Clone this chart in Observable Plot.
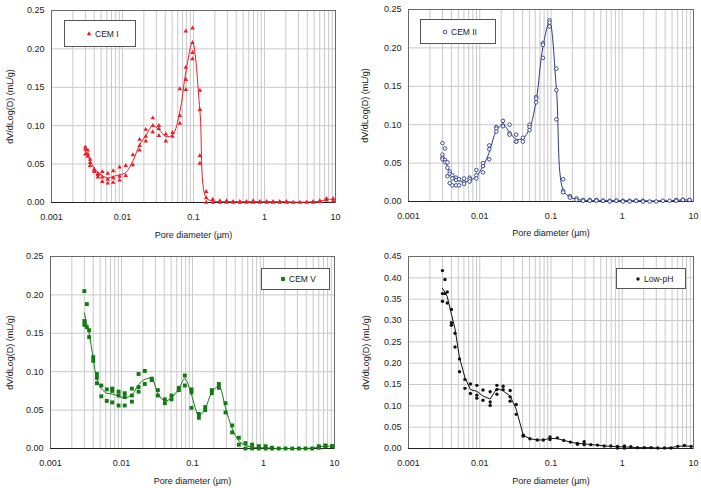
<!DOCTYPE html>
<html>
<head>
<meta charset="utf-8">
<script src="https://cdn.jsdelivr.net/npm/d3@7"></script>
<script src="https://cdn.jsdelivr.net/npm/@observablehq/plot@0.6"></script>
<style>
  html, body { margin: 0; padding: 0; background: #fff; }
  #board { position: relative; width: 701px; height: 488px; font-family: "Liberation Sans", Arial, sans-serif; }
  .panel { position: absolute; }
  .legend {
    position: absolute; box-sizing: border-box; border: 1px solid #555; background: #fff;
    display: flex; align-items: center; font-size: 8.5px; color: #222;
  }
  .legend svg { margin-right: 2px; }
</style>
</head>
<body>
<div id="board"></div>
<script>
// Pore diameters (µm) of the intrusion steps
const diamCEMI = [0.0030, 0.00325, 0.0035, 0.0040, 0.0045, 0.0052, 0.0062, 0.0074, 0.0091, 0.0111, 0.0140, 0.0174, 0.0213, 0.0267, 0.0325, 0.0408, 0.0506, 0.0642, 0.078, 0.0968, 0.123, 0.151, 0.187, 0.235, 0.292, 0.362, 0.450, 0.557, 0.692, 0.859, 1.07, 1.32, 1.64, 2.04, 2.54, 3.15, 3.91, 4.84, 6.01, 7.46, 9.27];
const diamCEMII = [0.0030, 0.00326, 0.00352, 0.00379, 0.00413, 0.00465, 0.00512, 0.00602, 0.00722, 0.00896, 0.0111, 0.0136, 0.0171, 0.0212, 0.0262, 0.0325, 0.0403, 0.0500, 0.0620, 0.0769, 0.0953, 0.119, 0.148, 0.184, 0.228, 0.282, 0.350, 0.434, 0.537, 0.667, 0.826, 1.02, 1.27, 1.57, 1.95, 2.42, 3.00, 3.72, 4.61, 5.72, 7.09, 8.79];
const diamCEMV = diamCEMI;
const diamLowPH = diamCEMI;

// Replicate measurements of dV/dlog(D) (mL/g) at each diameter
const cemIRuns = [[0.072, 0.069, 0.063], [0.068, 0.063, 0.060], [0.056, 0.052, 0.048], [0.043, 0.042, 0.040], [0.038, 0.036, 0.033], [0.040, 0.033, 0.027], [0.038, 0.030, 0.025], [0.041, 0.032, 0.026], [0.046, 0.034, 0.029], [0.048, 0.035], [0.062, 0.049], [0.082, 0.074, 0.068], [0.095, 0.086, 0.080], [0.110, 0.100, 0.092], [0.100, 0.096, 0.087], [0.089, 0.080], [0.091, 0.086], [0.148, 0.113, 0.103], [0.223, 0.176, 0.160, 0.147], [0.227, 0.208, 0.195, 0.187], [0.146, 0.121, 0.061, 0.051], [0.014, 0.006, 0.0], [0.004, 0.0], [0.002, 0.0], [0.002, 0.0], [0.001, 0.0], [0.001, 0.0], [0.001, 0.0], [0.002, 0.0], [0.001, 0.0], [0.001, 0.0], [0.001, 0.0], [0.001, 0.0], [0.001, 0.0], [0.0], [0.0], [0.0], [0.001, 0.0], [0.002, 0.001], [0.005, 0.003], [0.005, 0.002]];
const cemIIRuns = [[0.076, 0.061, 0.057, 0.055], [0.069, 0.054, 0.051], [0.051, 0.044, 0.033], [0.039, 0.036, 0.024], [0.034, 0.030, 0.021], [0.031, 0.028, 0.021], [0.029, 0.021], [0.030, 0.025, 0.023], [0.031, 0.029, 0.026], [0.041, 0.034, 0.030], [0.050, 0.046, 0.038], [0.073, 0.068, 0.055], [0.097, 0.095, 0.091], [0.105, 0.099, 0.098], [0.100, 0.089, 0.087], [0.087, 0.078, 0.078], [0.083, 0.078], [0.100, 0.097, 0.093], [0.136, 0.134, 0.129], [0.206, 0.204, 0.187], [0.236, 0.233, 0.228], [0.173, 0.145, 0.107], [0.029, 0.014, 0.012], [0.007, 0.005], [0.004, 0.002], [0.002, 0.001], [0.002, 0.001], [0.002, 0.001], [0.001, 0.001], [0.001, 0.0], [0.001, 0.001], [0.001, 0.0], [0.001, 0.0], [0.001, 0.001], [0.001, 0.0], [0.0], [0.0], [0.001], [0.001], [0.002, 0.001], [0.002, 0.002], [0.002, 0.002]];
const cemVRuns = [[0.205, 0.166, 0.161], [0.188, 0.158], [0.154, 0.145], [0.119, 0.114], [0.097, 0.092, 0.085], [0.082, 0.068], [0.077, 0.062], [0.078, 0.075, 0.060], [0.074, 0.069, 0.056], [0.072, 0.067, 0.056], [0.078, 0.069, 0.061], [0.097, 0.080, 0.074], [0.101, 0.084], [0.091, 0.089], [0.076, 0.069], [0.064, 0.059], [0.069, 0.064], [0.079, 0.076], [0.095, 0.082], [0.077, 0.073, 0.053], [0.045, 0.040], [0.054, 0.050], [0.076, 0.072], [0.084, 0.079], [0.059, 0.047], [0.030, 0.021], [0.014, 0.005], [0.007, 0.0], [0.005, 0.0], [0.003, 0.0], [0.003, 0.0], [0.001, 0.0], [0.0], [0.0], [0.0], [0.0], [0.0], [0.0], [0.003, 0.001], [0.004, 0.003], [0.003, 0.003]];
const lowPHRuns = [[0.417, 0.363, 0.345], [0.396, 0.363], [0.367, 0.341], [0.326, 0.295, 0.289], [0.270, 0.238], [0.210, 0.180], [0.162, 0.141], [0.151, 0.129], [0.148, 0.125, 0.118], [0.137, 0.113], [0.133, 0.109, 0.101], [0.148, 0.138, 0.127], [0.146, 0.138], [0.136, 0.121, 0.111], [0.103, 0.080], [0.031, 0.029], [0.023], [0.020], [0.020], [0.027, 0.021], [0.025], [0.019], [0.015], [0.012, 0.010], [0.016, 0.009], [0.009], [0.008], [0.006], [0.006], [0.005, 0.001], [0.006, 0.001], [0.004], [0.002], [0.002], [0.002], [0.001], [0.001], [0.001], [0.005], [0.007], [0.005]];

// Average curves through the replicates
const cemICurve = [0.067, 0.062, 0.054, 0.045, 0.039, 0.035, 0.032, 0.034, 0.036, 0.039, 0.054, 0.075, 0.087, 0.100, 0.095, 0.086, 0.088, 0.118, 0.170, 0.208, 0.120, 0.006, 0.002, 0.001, 0.001, 0.001, 0.001, 0.001, 0.001, 0.001, 0.001, 0.001, 0.001, 0.001, 0.0005, 0.0005, 0.0005, 0.001, 0.0015, 0.004, 0.004];
const cemIICurve = [0.060, 0.054, 0.046, 0.038, 0.034, 0.029, 0.027, 0.026, 0.027, 0.033, 0.046, 0.064, 0.092, 0.100, 0.090, 0.081, 0.082, 0.095, 0.132, 0.201, 0.234, 0.147, 0.015, 0.006, 0.003, 0.0015, 0.0012, 0.001, 0.001, 0.001, 0.001, 0.001, 0.001, 0.001, 0.001, 0.0008, 0.0008, 0.001, 0.001, 0.0015, 0.002, 0.002];
const cemVCurve = [0.177, 0.162, 0.150, 0.117, 0.090, 0.078, 0.072, 0.071, 0.068, 0.066, 0.070, 0.083, 0.090, 0.091, 0.072, 0.062, 0.066, 0.078, 0.091, 0.070, 0.043, 0.052, 0.073, 0.081, 0.053, 0.026, 0.010, 0.004, 0.002, 0.001, 0.001, 0.0005, 0.0, 0.0, 0.0, 0.0, 0.0, 0.0005, 0.002, 0.003, 0.003];
const lowPHCurve = [0.375, 0.366, 0.356, 0.315, 0.280, 0.213, 0.166, 0.138, 0.134, 0.123, 0.116, 0.141, 0.135, 0.123, 0.092, 0.031, 0.023, 0.020, 0.020, 0.024, 0.023, 0.019, 0.015, 0.012, 0.011, 0.009, 0.008, 0.006, 0.005, 0.004, 0.004, 0.003, 0.002, 0.002, 0.002, 0.001, 0.001, 0.002, 0.005, 0.006, 0.005];

// Axis ticks
const xMajor = [0.001, 0.01, 0.1, 1, 10];
const xGrid = [0.001, 0.002, 0.003, 0.004, 0.005, 0.006, 0.007, 0.008, 0.009,
  0.01, 0.02, 0.03, 0.04, 0.05, 0.06, 0.07, 0.08, 0.09,
  0.1, 0.2, 0.3, 0.4, 0.5, 0.6, 0.7, 0.8, 0.9,
  1, 2, 3, 4, 5, 6, 7, 8, 9, 10];
const yTicks25 = [0, 0.05, 0.10, 0.15, 0.20, 0.25];
const yTicks45 = [0, 0.05, 0.10, 0.15, 0.20, 0.25, 0.30, 0.35, 0.40, 0.45];

const board = document.getElementById("board");

function panel(cfg) {
  const pts = cfg.diam.flatMap((d, i) => cfg.runs[i].map(v => ({d, v})));
  const curve = cfg.diam.map((d, i) => ({d, v: cfg.curve[i]}));
  const dotOpts = {x: "d", y: "v", symbol: cfg.symbol, r: cfg.r};
  if (cfg.open) { dotOpts.fill = "white"; dotOpts.stroke = cfg.color; dotOpts.strokeWidth = 0.9; }
  else { dotOpts.fill = cfg.color; dotOpts.stroke = "none"; }
  const chart = Plot.plot({
    width: cfg.width, height: 244,
    marginLeft: cfg.ml, marginRight: cfg.mr, marginTop: cfg.mt, marginBottom: cfg.mb,
    style: {fontFamily: "'Liberation Sans', Arial, sans-serif", fontSize: "9px", color: "#222", background: "transparent", overflow: "visible"},
    x: {type: "log", domain: [0.001, 10]},
    y: {domain: [0, cfg.yMax]},
    marks: [
      Plot.gridX(xGrid, {stroke: "#c9c9c9", strokeOpacity: 1}),
      Plot.gridY(cfg.yTicks, {stroke: "#c9c9c9", strokeOpacity: 1}),
      Plot.frame({stroke: "#6a6a6a"}),
      Plot.ruleY([0], {stroke: "#222"}),
      Plot.axisX(xMajor, {tickSize: 0, tickPadding: 11, tickFormat: d => String(d), label: null}),
      Plot.axisY(cfg.yTicks, {tickSize: 0, tickPadding: 7, tickFormat: d3.format(".2f"), label: null}),
      Plot.line(curve, {x: "d", y: "v", stroke: cfg.color, strokeWidth: 1, curve: cfg.curveType}),
      Plot.dot(pts, dotOpts),
      Plot.text(["Pore diameter (µm)"], {frameAnchor: "bottom", dy: cfg.xTitleDy, textAnchor: "middle", fill: "#222"}),
      Plot.text(["dV/dLog(D) (mL/g)"], {frameAnchor: "left", dx: cfg.yTitleDx, rotate: -90, textAnchor: "middle", fill: "#222"})
    ]
  });
  chart.classList.add("panel");
  chart.style.left = cfg.left + "px";
  chart.style.top = cfg.top + "px";
  board.appendChild(chart);

  // legend box, placed relative to the panel's top-left corner
  const lg = document.createElement("div");
  lg.className = "legend";
  Object.assign(lg.style, {
    left: (cfg.left + cfg.lg[0]) + "px", top: (cfg.top + cfg.lg[1]) + "px",
    width: cfg.lg[2] + "px", height: cfg.lg[3] + "px", paddingLeft: cfg.lg[4] + "px"
  });
  const sym = d3.create("svg").attr("width", 8).attr("height", 8);
  const symType = {triangle: d3.symbolTriangle, circle: d3.symbolCircle, square: d3.symbolSquare}[cfg.symbol];
  sym.append("path")
    .attr("transform", "translate(4,4)")
    .attr("d", d3.symbol(symType, Math.PI * cfg.r * cfg.r)())
    .attr("fill", cfg.open ? "white" : cfg.color)
    .attr("stroke", cfg.open ? cfg.color : "none")
    .attr("stroke-width", 0.9);
  lg.appendChild(sym.node());
  const t = document.createElement("span");
  t.textContent = cfg.name;
  lg.appendChild(t);
  board.appendChild(lg);
}

panel({name: "CEM I", diam: diamCEMI, runs: cemIRuns, curve: cemICurve, color: "#ee1c25", symbol: "triangle", r: 1.7,
  yMax: 0.25, yTicks: yTicks25, curveType: "catmull-rom",
  left: 0, top: 0, width: 350, ml: 51, mr: 15, mt: 10, mb: 42, xTitleDy: 35, yTitleDx: -41,
  lg: [64, 20, 72, 27, 20]});
panel({name: "CEM II", diam: diamCEMII, runs: cemIIRuns, curve: cemIICurve, color: "#2c3c86", symbol: "circle", r: 1.8, open: true,
  yMax: 0.25, yTicks: yTicks25, curveType: "catmull-rom",
  left: 350, top: 0, width: 351, ml: 58, mr: 8, mt: 9, mb: 43, xTitleDy: 34, yTitleDx: -43,
  lg: [70, 19, 76, 25, 20]});
panel({name: "CEM V", diam: diamCEMV, runs: cemVRuns, curve: cemVCurve, color: "#137a13", symbol: "square", r: 2.2,
  yMax: 0.25, yTicks: yTicks25, curveType: "catmull-rom",
  left: 0, top: 244, width: 350, ml: 50, mr: 16, mt: 12, mb: 40, xTitleDy: 35, yTitleDx: -40,
  lg: [261, 24, 69, 22, 17]});
panel({name: "Low-pH", diam: diamLowPH, runs: lowPHRuns, curve: lowPHCurve, color: "#111111", symbol: "circle", r: 1.7,
  yMax: 0.45, yTicks: yTicks45, curveType: "linear",
  left: 350, top: 244, width: 351, ml: 58, mr: 8, mt: 12, mb: 40, xTitleDy: 35, yTitleDx: -42,
  lg: [266, 24, 70, 21, 17]});
</script>
</body>
</html>
